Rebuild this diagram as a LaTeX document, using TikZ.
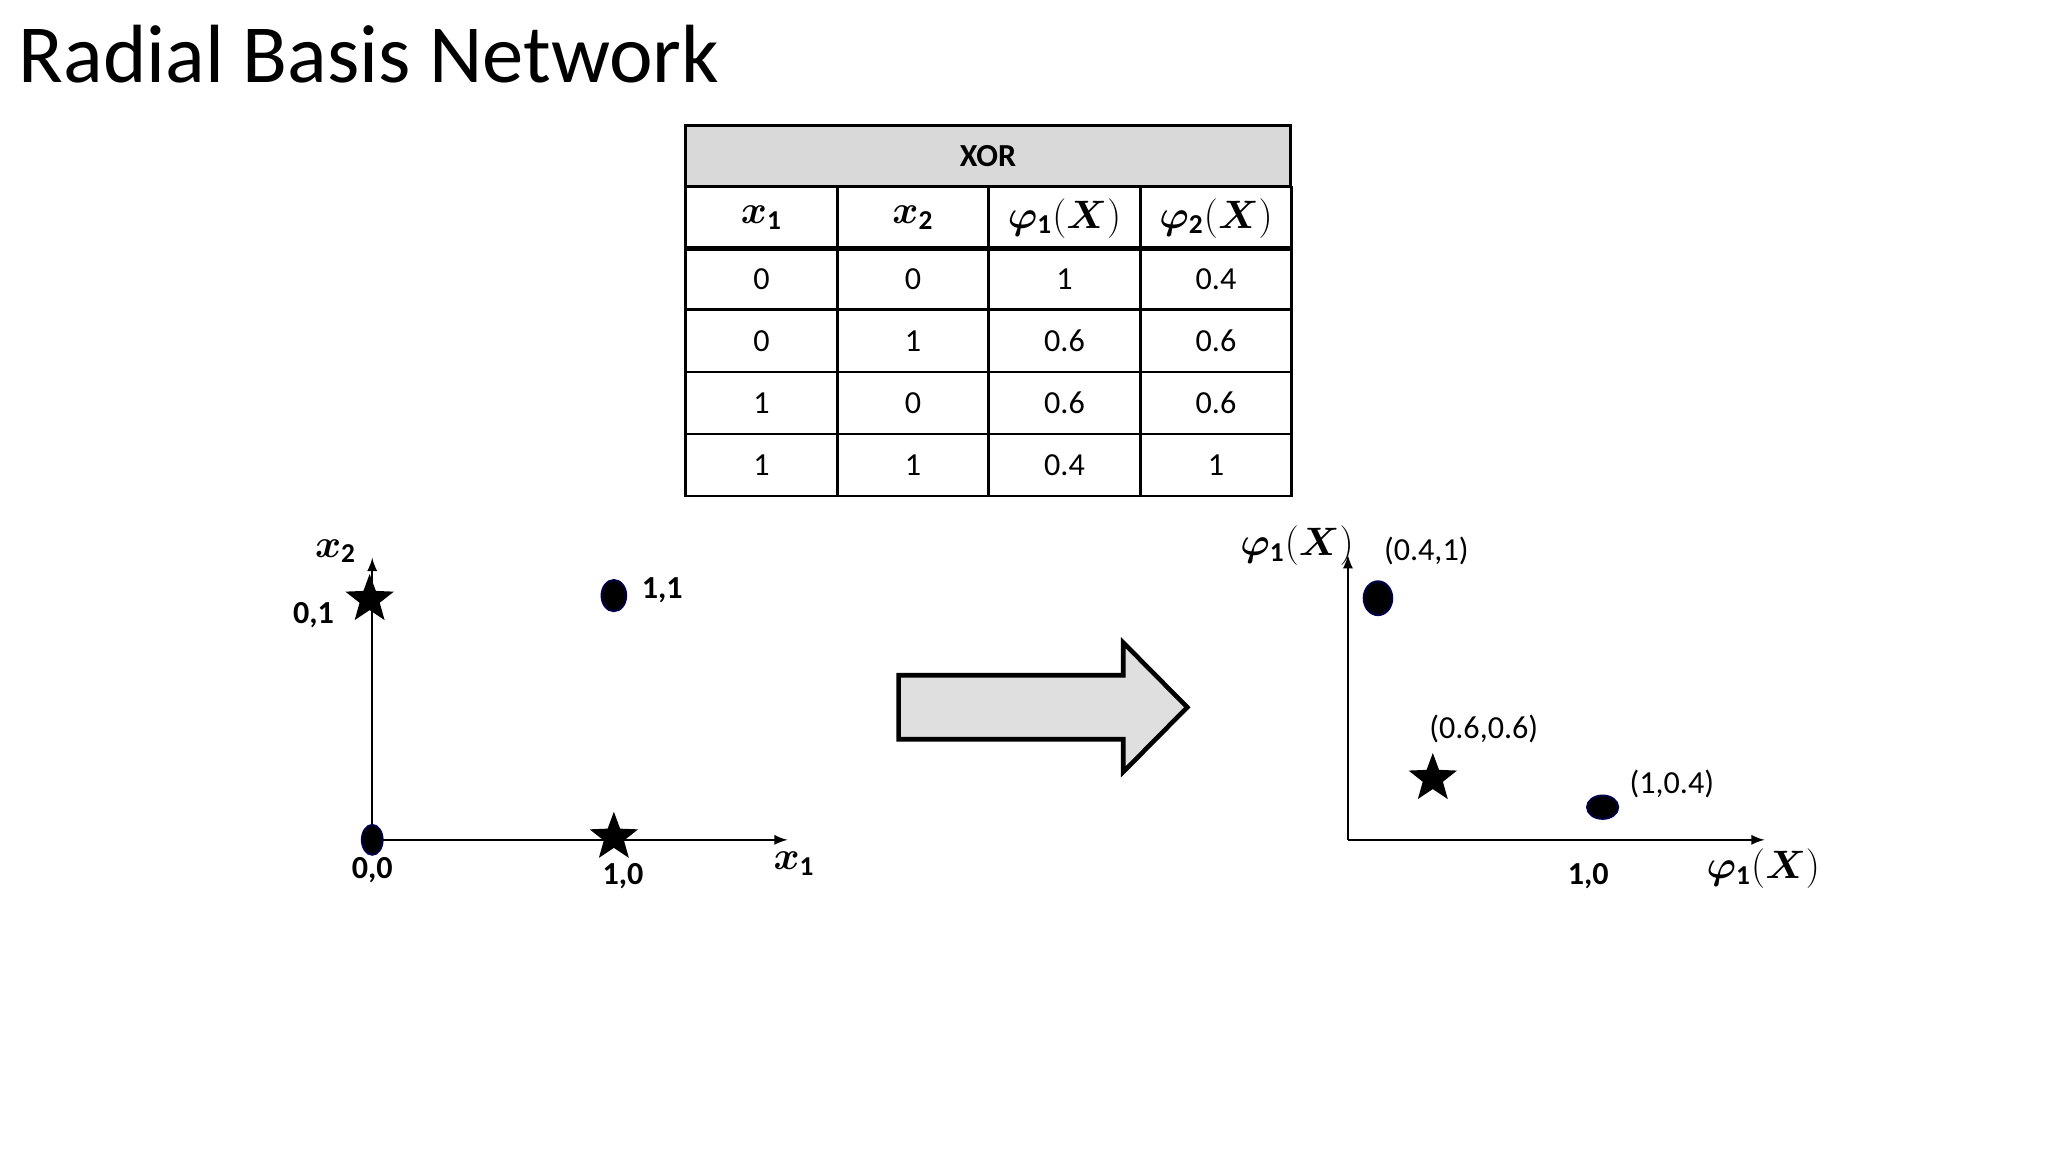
\documentclass[tikz,border=0pt]{standalone}
\usepackage{fontspec}
\setmainfont{Carlito}
\usepackage{amsmath,bm}
\usetikzlibrary{shapes.geometric,positioning}
\tikzset{
  cell/.style={draw,line width=1.2pt,minimum width=2.32cm,minimum height=0.95cm,inner sep=0pt,font=\fontsize{14}{16}\selectfont},
  lbl/.style={font=\fontsize{14}{16}\selectfont},
  mlbl/.style={font=\fontsize{17}{19}\selectfont},
  blbl/.style={font=\bfseries\fontsize{14}{16}\selectfont},
  dot/.style={ellipse,fill=black,draw=blue!30!black,line width=0.8pt,inner sep=0pt},
  pstar/.style={star,star points=5,star point ratio=2.4,fill=black,inner sep=0pt,minimum size=0.78cm},
  axis/.style={-latex,line width=1pt}
}
\newcommand{\phix}[1]{\bm{\varphi}_{\mathbf{#1}}(\bm{X})}
\begin{document}
\begin{tikzpicture}[x=0.02cm,y=-0.02cm]
\useasboundingbox (0,0) rectangle (1568,882);

% Titel
\node[anchor=base west,inner sep=0pt,font=\fontsize{36}{42}\selectfont] (title) at (14,63) {Radial Basis Network};

% Tabelle
\node[draw,line width=1.2pt,fill=gray!30,minimum width=9.26cm,minimum height=0.94cm,inner sep=0pt,font=\bfseries\fontsize{14}{16}\selectfont] (xor) at (756.5,119.5) {XOR};
\node[cell,mlbl] (h1) at (583,167) {$\bm{x}_{\mathbf 1}$};
\node[cell,mlbl] (h2) at (699,167) {$\bm{x}_{\mathbf 2}$};
\node[cell,mlbl] (h3) at (815,167) {$\phix1$};
\node[cell,mlbl] (h4) at (931,167) {$\phix2$};
\foreach \a/\b/\c/\d [count=\i] in {0/0/1/0.4, 0/1/0.6/0.6, 1/0/0.6/0.6, 1/1/0.4/1}{
  \node[cell] (r\i a) at (583,{166+47.5*\i}) {\a};
  \node[cell] (r\i b) at (699,{166+47.5*\i}) {\b};
  \node[cell] (r\i c) at (815,{166+47.5*\i}) {\c};
  \node[cell] (r\i d) at (931,{166+47.5*\i}) {\d};
}

% Eingaberaum
\coordinate (o1) at (285,643);
\coordinate (x1end) at (603,643);
\coordinate (x2end) at (285,427);
\draw[axis] (o1) -- (x1end);
\draw[axis] (o1) -- (x2end);
\node[mlbl] (x1lbl) at (608,661) {$\bm{x}_{\mathbf 1}$};
\node[mlbl] (x2lbl) at (257,422) {$\bm{x}_{\mathbf 2}$};
\node[pstar] (s01) at (283,459) {};
\node[blbl] (l01) at (240,471) {0,1};
\node[dot,minimum width=0.38cm,minimum height=0.48cm] (d11) at (470,456) {};
\node[blbl] (l11) at (507,452) {1,1};
\node[dot,minimum width=0.32cm,minimum height=0.46cm] (d00) at (285,643) {};
\node[blbl] (l00) at (285,666) {0,0};
\node[pstar] (s10) at (470,641) {};
\node[blbl] (l10) at (477,671) {1,0};

% Pfeil
\draw[line width=2pt,fill=gray!25]
  (688,517) -- (860,517) -- (860,492) -- (909,541.5) -- (860,591)
  -- (860,566) -- (688,566) -- cycle;

% Merkmalsraum
\coordinate (o2) at (1032,643);
\coordinate (p1end) at (1351,643);
\coordinate (p2end) at (1032,425);
\draw[axis] (o2) -- (p1end);
\draw[axis] (o2) -- (p2end);
\node[mlbl] (p2lbl) at (993,418) {$\phix1$};
\node[mlbl] (p1lbl) at (1350,665) {$\phix1$};
\node[dot,minimum width=0.44cm,minimum height=0.52cm] (da) at (1055,458) {};
\node[lbl] (la) at (1092,422) {(0.4,1)};
\node[pstar] (sb) at (1097,596) {};
\node[lbl] (lb) at (1136,558) {(0.6,0.6)};
\node[dot,minimum width=0.48cm,minimum height=0.36cm] (dc) at (1227,618) {};
\node[lbl] (lc) at (1280,600) {(1,0.4)};
\node[blbl] (l10b) at (1216,671) {1,0};
\end{tikzpicture}
\end{document}
